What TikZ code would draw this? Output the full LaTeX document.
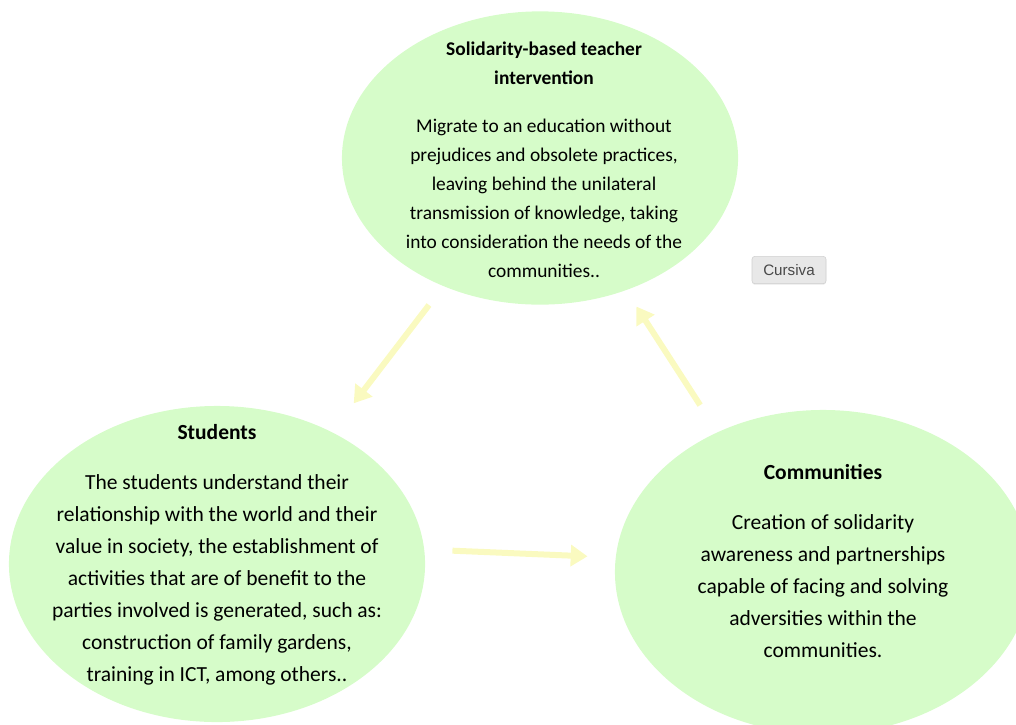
\documentclass[tikz,border=0pt]{standalone}
\usepackage{fontspec}
\setmainfont{Carlito}
\newfontfamily\tipfont{Liberation Sans}
\usetikzlibrary{shapes.geometric,arrows.meta,shadows}

\definecolor{verdeclaro}{RGB}{214,252,201}
\definecolor{amarillo}{RGB}{250,250,192}
\definecolor{grisfondo}{RGB}{232,232,232}
\definecolor{grisborde}{RGB}{208,208,208}
\definecolor{gristexto}{RGB}{72,72,72}

\tikzset{
  globo/.style={ellipse, fill=verdeclaro, draw=none, inner sep=0pt},
  texto/.style={align=center, inner sep=0pt, font=\fontsize{15.3}{22.76}\selectfont},
  flecha/.style={-{Triangle[width=0.52cm,length=0.42cm]}, line width=0.15cm, amarillo},
  etiqueta/.style={rounded corners=2pt, fill=grisfondo, draw=grisborde, line width=0.4pt,
    minimum width=1.85cm, minimum height=0.68cm, inner sep=0pt,
    font=\tipfont\fontsize{10.8}{12}\selectfont, text=gristexto,
    drop shadow={opacity=0.18, shadow xshift=0pt, shadow yshift=-0.8pt}}
}

\begin{document}
\begin{tikzpicture}[x=0.025cm, y=-0.025cm]
    \useasboundingbox (0,0) rectangle (1016,724);

    % Elipses
    \node[globo, minimum width=9.9cm, minimum height=7.33cm] (docente) at (540,158) {};
    \node[globo, minimum width=10.4cm, minimum height=7.9cm] (alumnos) at (217,564) {};
    \node[globo, minimum width=10.4cm, minimum height=8.1cm] (comunidad) at (823,572) {};

    % Textos de cada elipse
    \node[texto, font=\fontsize{13.8}{20.6}\selectfont] (docentetxt) at (544,160)
      {\textbf{Solidarity-based teacher}\\\textbf{intervention}\\[0.47cm]
       Migrate to an education without\\prejudices and obsolete practices,\\
       leaving behind the unilateral\\transmission of knowledge, taking\\
       into consideration the needs of the\\communities..};
    \node[texto] (alumnostxt) at (217,555)
      {\textbf{Students}\\[0.45cm]
       The students understand their\\relationship with the world and their\\
       value in society, the establishment of\\activities that are of benefit to the\\
       parties involved is generated, such as:\\construction of family gardens,\\
       training in ICT, among others..};
    \node[texto] (comunidadtxt) at (823,561)
      {\textbf{Communities}\\[0.43cm]
       Creation of solidarity\\awareness and partnerships\\
       capable of facing and solving\\adversities within the\\communities.};

    % Flechas del ciclo
    \draw[flecha, shorten <=0.59cm, shorten >=0.9cm] (docente.-127) -- (alumnos.49);
    \draw[flecha, shorten <=0.7cm, shorten >=0.7cm] (alumnos.4) -- (comunidad.176);
    \draw[flecha, shorten <=0.8cm, shorten >=0.48cm] (comunidad.127) -- (docente.-57);

    % Recuadro suelto
    \node[etiqueta] (cursiva) at (789,270) {Cursiva};
\end{tikzpicture}
\end{document}
